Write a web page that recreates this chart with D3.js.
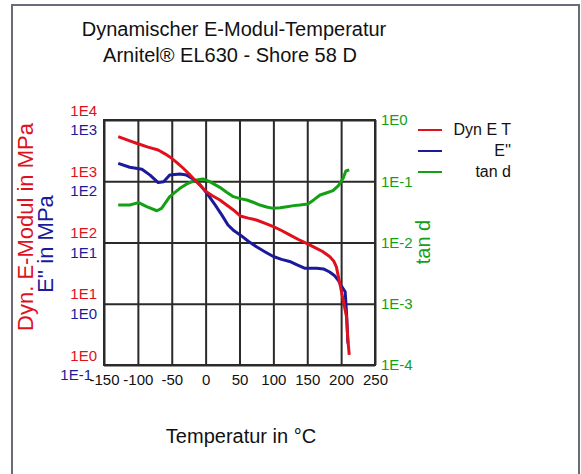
<!DOCTYPE html>
<html><head><meta charset="utf-8">
<script src="https://cdn.jsdelivr.net/npm/d3@7"></script>
<style>
html,body{margin:0;padding:0;background:#fff;}
svg{display:block;font-family:"Liberation Sans",Arial,sans-serif;}
</style></head>
<body>
<script>
// ---- data ----
const titleLines = ["Dynamischer E-Modul-Temperatur", "Arnitel® EL630 - Shore 58 D"];
const xTicks = [-150, -100, -50, 0, 50, 100, 150, 200, 250];
const eTickVals = [1, 10, 100, 1000, 10000];
const eTickLabels = ["1E0", "1E1", "1E2", "1E3", "1E4"];
const e2TickVals = [0.1, 1, 10, 100, 1000];
const e2TickLabels = ["1E-1", "1E0", "1E1", "1E2", "1E3"];
const tanTickVals = [1e-4, 1e-3, 1e-2, 1e-1, 1];
const tanTickLabels = ["1E-4", "1E-3", "1E-2", "1E-1", "1E0"];
const legendNames = ["Dyn E T", "E''", "tan d"];

// Dyn E T (MPa)
const eTemp = [-129, -115, -102, -85, -70, -60, -50, -42, -33, -24, -16, -7, 1, 10, 21, 31, 41, 51, 63, 75, 88, 100, 112, 124, 137, 149, 160, 172, 183, 189, 193, 198, 203, 208, 210, 212];
const eVal  = [5340, 4700, 4170, 3600, 3240, 2800, 2370, 2000, 1630, 1300, 1050, 830, 675, 580, 494, 410, 340, 271, 250, 233, 205, 181, 157, 133, 112, 97, 84, 72, 59, 50, 40, 21.6, 11.5, 6.1, 2.56, 1.46];
// E'' (MPa)
const e2Temp = [-129, -112, -94, -82, -70, -62, -53, -38, -28, -18, -8, 2, 14, 24, 33, 42, 51, 63, 75, 88, 100, 112, 124, 135, 146, 155, 164, 174, 183, 190, 196, 201, 206, 208, 210];
const e2Val  = [196, 169, 157, 126, 95, 98, 126, 131, 126, 108, 87, 63.5, 41, 28, 19.3, 15.5, 13.3, 10.5, 8.5, 7.0, 5.9, 5.3, 4.9, 4.3, 3.8, 3.8, 3.8, 3.7, 3.3, 2.9, 2.4, 1.9, 1.57, 0.70, 0.226];
// tan d
const tanTemp = [-129, -112, -99, -87, -72, -65, -53, -38, -26, -13, -4, 6, 21, 31, 41, 51, 61, 71, 80, 90, 100, 110, 120, 130, 139, 151, 160, 169, 179, 188, 196, 203, 207, 212];
const tanVal  = [0.0409, 0.0409, 0.0447, 0.0384, 0.0330, 0.0361, 0.0560, 0.0767, 0.0927, 0.105, 0.109, 0.0984, 0.0796, 0.066, 0.056, 0.052, 0.0494, 0.045, 0.0409, 0.038, 0.0361, 0.037, 0.0384, 0.040, 0.0409, 0.0425, 0.050, 0.0597, 0.065, 0.0702, 0.085, 0.112, 0.147, 0.153];

// ---- layout ----
const W = 581, H = 474;
const P = {left: 104, right: 375, top: 120, bottom: 365};
const RED = "#e0101c", BLUE = "#1a1a9a", GREEN = "#14a014", GRID = "#2a2a2a";

const svg = d3.select("body").append("svg").attr("width", W).attr("height", H);

// outer frame
svg.append("path").attr("d", `M12,${H} L12,5 L579,5 L579,${H}`)
  .attr("fill", "none").attr("stroke", "#6a6a78").attr("stroke-width", 2);

// title
svg.append("text").attr("x", 234).attr("y", 36).attr("text-anchor", "middle")
  .attr("font-size", 20).attr("fill", "#111").text(titleLines[0]);
svg.append("text").attr("x", 230).attr("y", 62).attr("text-anchor", "middle")
  .attr("font-size", 20).attr("fill", "#111").text(titleLines[1]);

// scales
const x = d3.scaleLinear().domain([-150, 250]).range([P.left, P.right]);
const yE = d3.scaleLog().domain([1, 1e4]).range([P.bottom, P.top]);
const yE2 = d3.scaleLog().domain([0.1, 1e3]).range([P.bottom, P.top]);
const yT = d3.scaleLog().domain([1e-4, 1]).range([P.bottom, P.top]);

// grid
const gx = svg.append("g").attr("transform", `translate(0,${P.bottom})`)
  .call(d3.axisBottom(x).tickValues(xTicks).tickSize(-(P.bottom - P.top)).tickFormat(""));
gx.select(".domain").remove();
gx.selectAll("line").attr("stroke", GRID).attr("stroke-width", 2);
const gy = svg.append("g").attr("transform", `translate(${P.left},0)`)
  .call(d3.axisLeft(yE).tickValues(eTickVals).tickSize(-(P.right - P.left)).tickFormat(""));
gy.select(".domain").remove();
gy.selectAll("line").attr("stroke", GRID).attr("stroke-width", 2);

svg.append("rect").attr("x", P.left).attr("y", P.top)
  .attr("width", P.right - P.left).attr("height", P.bottom - P.top)
  .attr("fill", "none").attr("stroke", GRID).attr("stroke-width", 2);

// x axis labels
const ax = svg.append("g").attr("transform", `translate(0,${P.bottom})`)
  .call(d3.axisBottom(x).tickValues(xTicks).tickSize(0).tickPadding(9).tickFormat(d => String(d)));
ax.select(".domain").remove();
ax.selectAll("text").attr("font-size", 15).attr("fill", "#111").attr("font-family", "Liberation Sans, Arial, sans-serif");

// left axis: E (red), above grid lines
const aE = svg.append("g").attr("transform", `translate(${P.left},0)`)
  .call(d3.axisLeft(yE).tickValues(eTickVals).tickSize(0).tickPadding(7)
    .tickFormat((d, i) => eTickLabels[i]));
aE.select(".domain").remove();
aE.selectAll("text").attr("font-size", 15).attr("fill", RED).attr("dy", "-0.32em").attr("font-family", "Liberation Sans, Arial, sans-serif");

// left axis: E'' (blue), below grid lines
const aE2 = svg.append("g").attr("transform", `translate(${P.left},0)`)
  .call(d3.axisLeft(yE2).tickValues(e2TickVals).tickSize(0).tickPadding(7)
    .tickFormat((d, i) => e2TickLabels[i]));
aE2.select(".domain").remove();
aE2.selectAll("text").attr("font-size", 15).attr("fill", BLUE).attr("dy", "0.98em").attr("font-family", "Liberation Sans, Arial, sans-serif")
  .attr("dx", (d, i) => i === 0 ? -5 : 0);

// right axis: tan d (green)
const aT = svg.append("g").attr("transform", `translate(${P.right},0)`)
  .call(d3.axisRight(yT).tickValues(tanTickVals).tickSize(0).tickPadding(6)
    .tickFormat((d, i) => tanTickLabels[i]));
aT.select(".domain").remove();
aT.selectAll("text").attr("font-size", 15).attr("fill", GREEN).attr("font-family", "Liberation Sans, Arial, sans-serif");

// axis titles
svg.append("text").attr("transform", "translate(33,227) rotate(-90)").attr("text-anchor", "middle")
  .attr("font-size", 22).attr("fill", RED).text("Dyn. E-Modul in MPa");
svg.append("text").attr("transform", "translate(53,244) rotate(-90)").attr("text-anchor", "middle")
  .attr("font-size", 22).attr("fill", BLUE).text("E'' in MPa");
svg.append("text").attr("transform", "translate(430,242) rotate(-90)").attr("text-anchor", "middle")
  .attr("font-size", 20).attr("fill", GREEN).text("tan d");
svg.append("text").attr("x", 241).attr("y", 443).attr("text-anchor", "middle")
  .attr("font-size", 20).attr("fill", "#111").text("Temperatur in °C");

// curves
const line = (ys) => d3.line().x(d => x(d[0])).y(d => ys(d[1]));
const series = [
  {t: eTemp, v: eVal, s: yE, c: RED},
  {t: e2Temp, v: e2Val, s: yE2, c: BLUE},
  {t: tanTemp, v: tanVal, s: yT, c: GREEN}
];
// draw order: green, blue, red on top
[series[2], series[1], series[0]].forEach(sr => {
  const pts = sr.t.map((t, i) => [t, sr.v[i]]);
  svg.append("path").datum(pts).attr("d", line(sr.s))
    .attr("fill", "none").attr("stroke", sr.c).attr("stroke-width", 3)
    .attr("stroke-linejoin", "round");
});

// legend
const colors = [RED, BLUE, GREEN];
legendNames.forEach((n, i) => {
  const yy = 130 + i * 21;
  svg.append("line").attr("x1", 418).attr("x2", 442).attr("y1", yy).attr("y2", yy)
    .attr("stroke", colors[i]).attr("stroke-width", 2);
  svg.append("text").attr("x", 511).attr("y", yy + 5).attr("text-anchor", "end")
    .attr("font-size", 16).attr("fill", "#111").text(n);
});
</script>
</body></html>
